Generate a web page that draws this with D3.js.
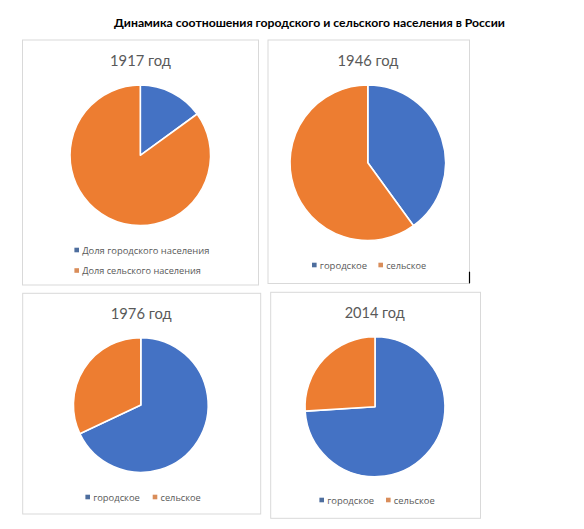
<!DOCTYPE html>
<html>
<head>
<meta charset="utf-8">
<script src="https://cdn.jsdelivr.net/npm/d3@7"></script>
<style>
  html, body { margin: 0; padding: 0; background: #fff; }
  svg { display: block; }
  text { font-family: Lato, "Open Sans", "DejaVu Sans", sans-serif; }
  text.legend { font-family: "Open Sans", "DejaVu Sans", sans-serif; }
</style>
</head>
<body>
<svg id="chart" width="584" height="529"></svg>
<script>
// ---- data ----
const chartTitle = "Динамика соотношения городского и сельского населения в России";
const years = ["1917 год", "1946 год", "1976 год", "2014 год"];
const urbanShare = [15, 40, 68, 74];
const ruralShare = [85, 60, 32, 26];
const legendUrban = ["Доля городского населения", "городское", "городское", "городское"];
const legendRural = ["Доля сельского населения", "сельское", "сельское", "сельское"];
const seriesKeys = ["urban", "rural"];

// ---- layout (positions / styles only) ----
const panels = [
  { x: 22.5, y: 40,    w: 236,   h: 245,   tx: 140.5, ty: 60,    tw: 61, cx: 140.3, cy: 155.3, r: 70.3,
    legend: "vertical", lx: 76.7, ly: [250, 270.5], lw: [127.5, 119] },
  { x: 268,  y: 40,    w: 201.5, h: 243.5, tx: 368,   ty: 60,    tw: 61, cx: 367.8, cy: 162.8, r: 77.8,
    legend: "horizontal", ly: 265, lmx: [314.3, 380.7], lw: [47.3, 40] },
  { x: 22.7, y: 293.3, w: 238,   h: 220.7, tx: 141.2, ty: 313.3, tw: 61, cx: 140.8, cy: 405,   r: 67.4,
    legend: "horizontal", ly: 497, lmx: [87.7, 155], lw: [46.7, 40.3] },
  { x: 270.7,y: 292.3, w: 209.8, h: 226,   tx: 374.7, ty: 312.3, tw: 60, cx: 375,   cy: 406.7, r: 70,
    legend: "horizontal", ly: 500, lmx: [321.7, 388.3], lw: [47, 41] }
];

const color = d3.scaleOrdinal().domain(seriesKeys).range(["#4472C4", "#ED7D31"]);
const legendMarkColor = d3.scaleOrdinal().domain(seriesKeys).range(["#4E6E9E", "#D98D5A"]);

const svg = d3.select("#chart");

// fit text to a target width by scaling font size
function fit(sel, target) {
  const base = parseFloat(sel.attr("font-size"));
  const w = sel.node().getComputedTextLength();
  if (w > 0) sel.attr("font-size", (base * target / w).toFixed(2));
  return sel;
}

// main title
fit(svg.append("text")
  .attr("x", 309.5).attr("y", 22.5)
  .attr("text-anchor", "middle").attr("dominant-baseline", "central")
  .attr("font-size", 11).attr("font-weight", "bold").attr("fill", "#000")
  .text(chartTitle), 391);

const pie = d3.pie().sort(null).value(d => d.value);

panels.forEach((p, i) => {
  const g = svg.append("g");
  g.append("rect")
    .attr("x", p.x).attr("y", p.y).attr("width", p.w).attr("height", p.h)
    .attr("fill", "#fff").attr("stroke", "#D9D9D9").attr("stroke-width", 1);

  fit(g.append("text")
    .attr("x", p.tx).attr("y", p.ty)
    .attr("text-anchor", "middle").attr("dominant-baseline", "central")
    .attr("font-size", 16).attr("fill", "#595959")
    .text(years[i]), p.tw);

  const data = [
    { key: "urban", value: urbanShare[i] },
    { key: "rural", value: ruralShare[i] }
  ];
  const arc = d3.arc().innerRadius(0).outerRadius(p.r);
  g.append("g")
    .attr("transform", `translate(${p.cx},${p.cy})`)
    .selectAll("path")
    .data(pie(data))
    .join("path")
    .attr("d", arc)
    .attr("fill", d => color(d.data.key))
    .attr("stroke", "#fff")
    .attr("stroke-width", 1.6)
    .attr("stroke-linejoin", "round");

  const labels = [legendUrban[i], legendRural[i]];
  seriesKeys.forEach((k, j) => {
    let mx, my;
    if (p.legend === "vertical") { mx = p.lx; my = p.ly[j]; }
    else { mx = p.lmx[j]; my = p.ly; }
    g.append("rect")
      .attr("x", mx - 2.3).attr("y", my - 2.3).attr("width", 4.6).attr("height", 4.6)
      .attr("fill", legendMarkColor(k));
    fit(g.append("text")
      .attr("class", "legend")
      .attr("x", mx + 5.5).attr("y", my)
      .attr("dominant-baseline", "central")
      .attr("font-size", 10).attr("fill", "#595959")
      .text(labels[j]), p.lw[j]);
  });
});

// small cursor mark at the bottom-right corner of the 1946 panel
svg.append("line")
  .attr("x1", 469.5).attr("x2", 469.5).attr("y1", 271.7).attr("y2", 283.3)
  .attr("stroke", "#000").attr("stroke-width", 1.2);
</script>
</body>
</html>
